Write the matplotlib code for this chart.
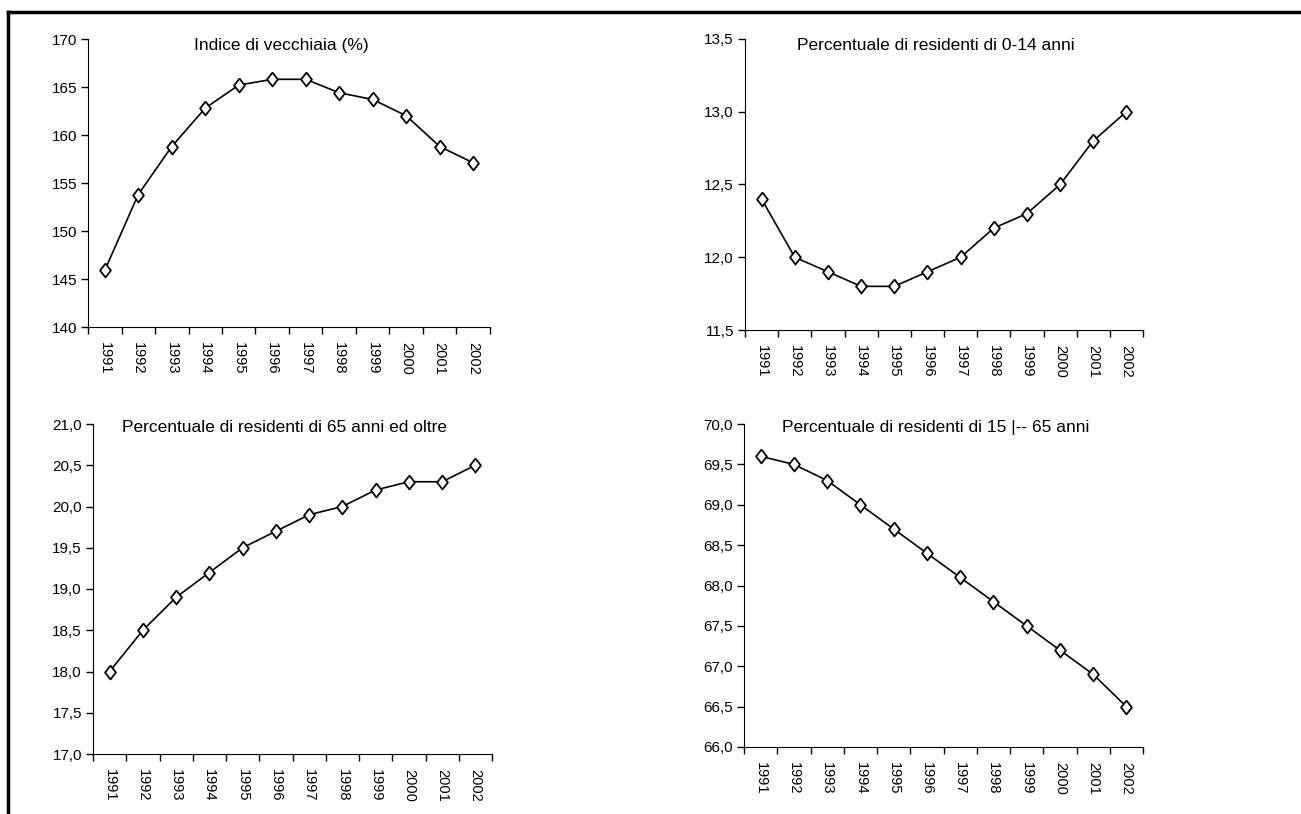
import matplotlib.pyplot as plt
import numpy as np
from matplotlib.lines import Line2D

plt.rcParams["font.family"] = ["Liberation Sans", "DejaVu Sans"]

anni = ["1991", "1992", "1993", "1994", "1995", "1996",
        "1997", "1998", "1999", "2000", "2001", "2002"]

vecchiaia = [145.9, 153.8, 158.8, 162.8, 165.2, 165.8, 165.8, 164.4, 163.7, 162.0, 158.8, 157.1]
res_0_14 = [12.4, 12.0, 11.9, 11.8, 11.8, 11.9, 12.0, 12.2, 12.3, 12.5, 12.8, 13.0]
res_65 = [18.0, 18.5, 18.9, 19.2, 19.5, 19.7, 19.9, 20.0, 20.2, 20.3, 20.3, 20.5]
res_15_65 = [69.6, 69.5, 69.3, 69.0, 68.7, 68.4, 68.1, 67.8, 67.5, 67.2, 66.9, 66.5]

W, H = 1301, 814
fig = plt.figure(figsize=(W / 100, H / 100), dpi=100)

# cornice: solo linea in alto e a sinistra
fig.add_artist(Line2D([8 / W, 1], [1 - 12 / H, 1 - 12 / H], color="black", lw=2.5))
fig.add_artist(Line2D([8 / W, 8 / W], [0, 1 - 12 / H], color="black", lw=2.5))

rombo = [(0, 1), (0.78, 0), (0, -1), (-0.78, 0), (0, 1)]


def grafico(px, titolo, valori, ymin, ymax, passo, fmt, ty):
    l, r, t, b = px
    ax = fig.add_axes([l / W, 1 - b / H, (r - l) / W, (b - t) / H])
    x = np.arange(len(anni))
    ax.plot(x, valori, color="black", lw=1.2, marker=rombo, markersize=10,
            markerfacecolor="white", markeredgecolor="black", markeredgewidth=1.3)
    ax.set_xlim(-0.5, len(anni) - 0.5)
    ax.set_ylim(ymin, ymax)
    yt = np.arange(ymin, ymax + passo / 2, passo)
    ax.set_yticks(yt)
    ax.set_yticklabels([fmt(v) for v in yt])
    ax.set_xticks(np.arange(len(anni) + 1) - 0.5)
    ax.set_xticklabels([])
    ax.set_xticks(x, minor=True)
    ax.set_xticklabels(anni, minor=True, rotation=-90)
    ax.tick_params(axis="x", which="minor", length=0, pad=11, labelsize=10.5)
    ax.tick_params(axis="x", which="major", length=5, width=1)
    ax.tick_params(axis="y", length=5, width=1, labelsize=11, pad=3)
    ax.spines["top"].set_visible(False)
    ax.spines["right"].set_visible(False)
    ax.text(0.48, ty, titolo, transform=ax.transAxes, ha="center", va="center", fontsize=12.5)
    return ax


grafico((88, 490, 39, 327), "Indice di vecchiaia (%)", vecchiaia, 140, 170, 5,
        lambda v: f"{v:.0f}", 0.979)
grafico((745, 1143, 39, 330), "Percentuale di residenti di 0-14 anni", res_0_14, 11.5, 13.5, 0.5,
        lambda v: f"{v:.1f}".replace(".", ","), 0.979)
grafico((93, 492, 424, 754), "Percentuale di residenti di 65 anni ed oltre", res_65, 17.0, 21.0, 0.5,
        lambda v: f"{v:.1f}".replace(".", ","), 0.988)
grafico((744, 1143, 424, 747), "Percentuale di residenti di 15 |-- 65 anni", res_15_65, 66.0, 70.0, 0.5,
        lambda v: f"{v:.1f}".replace(".", ","), 0.988)

plt.savefig("out.png", dpi=100)
